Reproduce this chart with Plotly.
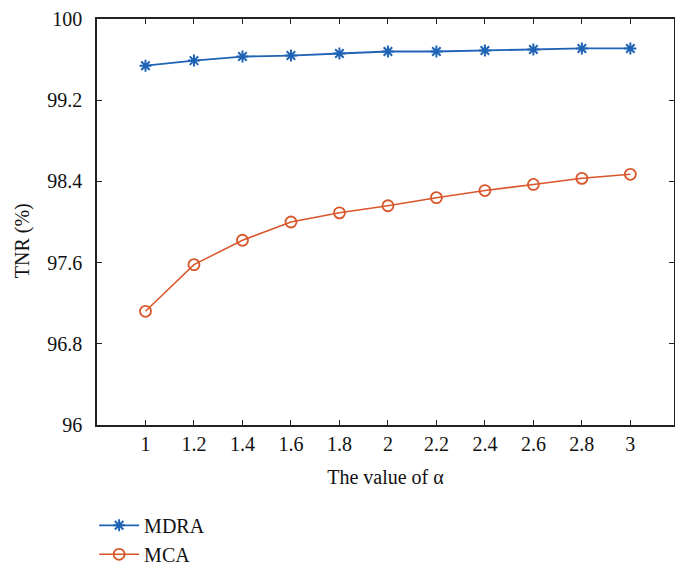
import plotly.graph_objects as go

alpha = [1.0, 1.2, 1.4, 1.6, 1.8, 2.0, 2.2, 2.4, 2.6, 2.8, 3.0]
mdra = [99.54, 99.59, 99.63, 99.64, 99.66, 99.68, 99.68, 99.69, 99.70, 99.71, 99.71]
mca = [97.12, 97.58, 97.82, 98.00, 98.09, 98.16, 98.24, 98.31, 98.37, 98.43, 98.47]
x_ticks = [1, 1.2, 1.4, 1.6, 1.8, 2, 2.2, 2.4, 2.6, 2.8, 3]
x_tick_labels = ["1", "1.2", "1.4", "1.6", "1.8", "2", "2.2", "2.4", "2.6", "2.8", "3"]
y_ticks = [96, 96.8, 97.6, 98.4, 99.2, 100]
y_tick_labels = ["96", "96.8", "97.6", "98.4", "99.2", "100"]

FONT = "Liberation Serif"
BLUE = "#1f63b5"
ORANGE = "#d9552a"

fig = go.Figure()
fig.add_trace(go.Scatter(
    x=alpha, y=mdra, name="MDRA", mode="lines+markers",
    line=dict(color=BLUE, width=1.8),
    marker=dict(symbol="asterisk-open", size=10, color=BLUE, line=dict(color=BLUE, width=2)),
))
fig.add_trace(go.Scatter(
    x=alpha, y=mca, name="MCA", mode="lines+markers",
    line=dict(color=ORANGE, width=1.5),
    marker=dict(symbol="circle-open", size=11, color=ORANGE, line=dict(color=ORANGE, width=1.8)),
))

fig.update_layout(
    width=675, height=570,
    margin=dict(l=97, r=1, t=19, b=145, autoexpand=False),
    paper_bgcolor="white", plot_bgcolor="white",
    font=dict(family=FONT, size=20, color="#111"),
    showlegend=True,
    legend=dict(x=-0.005, y=-0.199, xanchor="left", yanchor="top", orientation="v",
                font=dict(family=FONT, size=20, color="#111"),
                bgcolor="rgba(0,0,0,0)", tracegroupgap=0, itemwidth=40),
    xaxis=dict(
        range=[0.8, 3.18], tickvals=x_ticks, ticktext=x_tick_labels,
        showgrid=False, zeroline=False, showline=True, linecolor="#222", linewidth=1.5,
        ticks="inside", ticklen=5, tickcolor="#222", mirror="ticks",
        tickfont=dict(family=FONT, size=20),
        title=dict(text="The value of α", font=dict(family=FONT, size=20), standoff=16),
    ),
    yaxis=dict(
        range=[96, 100], tickvals=y_ticks, ticktext=y_tick_labels,
        showgrid=False, zeroline=False, showline=True, linecolor="#222", linewidth=1.5,
        ticks="inside", ticklen=5, tickcolor="#222", mirror="ticks",
        tickfont=dict(family=FONT, size=20),
        ticklabelstandoff=9,
    ),
    annotations=[dict(
        text="TNR (%)", xref="paper", yref="paper", x=(22 - 97) / 577, y=0.455,
        xanchor="center", yanchor="middle", textangle=-90, showarrow=False,
        font=dict(family=FONT, size=20, color="#111"),
    )],
)

fig.write_html("out.html")
